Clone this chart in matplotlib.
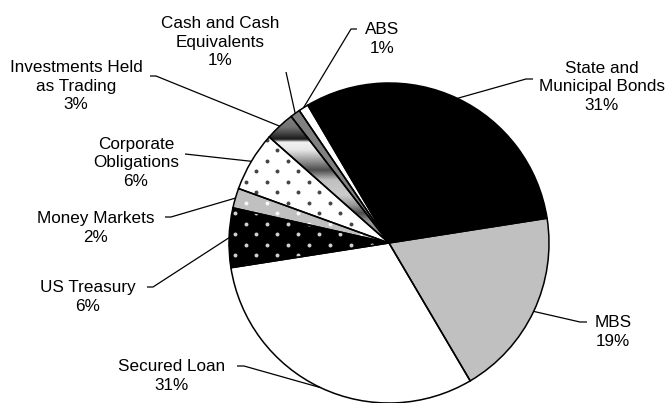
import numpy as np
import matplotlib
matplotlib.use("Agg")
import matplotlib.pyplot as plt
from matplotlib.patches import Wedge

# ---- data ----
categories = ["State and\nMunicipal Bonds", "MBS", "Secured Loan", "US Treasury",
              "Money Markets", "Corporate\nObligations", "Investments Held\nas Trading",
              "Cash and Cash\nEquivalents", "ABS"]
values = [31, 19, 31, 6, 2, 6, 3, 1, 1]

# ---- styles ----
face_colors = ["#000000", "#c0c0c0", "#ffffff", "#000000", "#c0c0c0",
               "#ffffff", "#a0a0a0", "#808080", "#ffffff"]
dot_colors = [None, None, None, "#d0d0d0", "#f8f8f8", "#444444", None, None, None]
gradient_idx = 6

W, H = 667, 403
CX, CY, R = 389, 243, 160   # pixel layout of the pie

# label layout: text centre (px), leader anchor (px), horizontal dash length
label_pos = [(602, 87), (613, 332), (172, 376), (88, 297), (96, 228),
             (136, 163), (76, 86), (220, 42), (382, 39)]
anchor_pos = [(533, 79), (587, 322), (237, 366), (147, 287), (165, 217),
              (185, 154), (150, 76), (286, 72), (357, 29)]
dash = [-7, -7, 7, 6, 6, 0, 6, 0, -6]

plt.rcParams['font.family'] = ['Liberation Sans', 'DejaVu Sans']
fig = plt.figure(figsize=(W / 100, H / 100), dpi=100)
ax = fig.add_axes([0, 0, 1, 1])

wedges, _ = ax.pie(values, startangle=120.5, counterclock=False, radius=R,
                   center=(CX, H - CY), colors=face_colors,
                   wedgeprops=dict(edgecolor="none", linewidth=0))

# staggered dot texture grid (pixel spacing)
gx, gy = [], []
step = 21.0
for r_i, yv in enumerate(np.arange(0, H, step / 2)):
    off = 0 if r_i % 2 == 0 else step / 2
    for xv in np.arange(off, W, step):
        gx.append(xv)
        gy.append(H - yv)
gx = np.array(gx) + 4
gy = np.array(gy) - 3

for i, w in enumerate(wedges):
    w.set_zorder(1)
    if dot_colors[i]:
        sc = ax.scatter(gx, gy, s=8, c=dot_colors[i], marker="o",
                        linewidths=0, zorder=2)
        sc.set_clip_path(w)
    if i == gradient_idx:
        ys = np.linspace(110, 250, 300)
        ctrl_y = [110, 127, 139, 142, 150, 162, 170, 180, 195, 205, 213, 222, 235, 250]
        ctrl_v = [0.55, 0.45, 0.1, 0.95, 0.9, 0.55, 0.3, 0.75, 0.8, 0.6, 0.3, 0.6, 0.5, 0.5]
        g = np.interp(ys, ctrl_y, ctrl_v)[:, None] * np.ones((1, 10))
        im = ax.imshow(g, cmap="gray", vmin=0, vmax=1, aspect="auto",
                       extent=(CX - R, CX, H - 250, H - 110), origin="upper", zorder=1.5,
                       interpolation="bilinear")
        im.set_clip_path(w)
    ol = Wedge(w.center, w.r, w.theta1, w.theta2, facecolor="none",
               edgecolor="black", linewidth=1.1, zorder=3)
    ax.add_patch(ol)

total = sum(values)
for i, w in enumerate(wedges):
    pct = f"{round(values[i] / total * 100)}%"
    tx, ty = label_pos[i]
    ax.text(tx, H - ty, f"{categories[i]}\n{pct}", ha="center", va="center",
            fontsize=12.3, linespacing=1.27, color="#000000", zorder=5)
    mid = np.deg2rad((w.theta1 + w.theta2) / 2)
    ex = w.center[0] + w.r * np.cos(mid)
    ey = w.center[1] + w.r * np.sin(mid)
    ax0, ay0 = anchor_pos[i]
    xs = [ax0, ax0 + dash[i], ex]
    yy = [H - ay0, H - ay0, ey]
    ax.plot(xs, yy, color="black", linewidth=0.9, zorder=4, solid_capstyle="butt")

ax.set_xlim(0, W)
ax.set_ylim(0, H)
ax.set_aspect("equal")
ax.axis("off")
fig.savefig("out.png", dpi=100, facecolor="white")
